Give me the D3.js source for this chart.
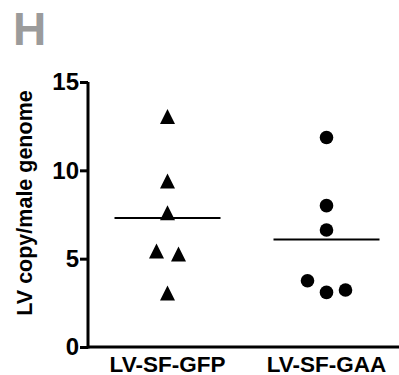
<!DOCTYPE html>
<html>
<head>
<meta charset="utf-8">
<script src="https://cdn.jsdelivr.net/npm/d3@7"></script>
<style>
  body { margin: 0; background: #fff; }
  text { font-family: "Liberation Sans", Arial, sans-serif; font-weight: bold; }
</style>
</head>
<body>
<div id="chart"></div>
<script>
// data
var groups = ['LV-SF-GFP', 'LV-SF-GAA'];
var gfpValues = [13.05, 9.4, 7.6, 5.43, 5.26, 3.06];
var gaaValues = [11.86, 8.0, 6.62, 3.75, 3.09, 3.23];
var yTicks = [0, 5, 10, 15];

var width = 399, height = 375;

var svg = d3.select('#chart')
    .append('svg')
        .attr('width', width)
        .attr('height', height);

// scales
var x = d3.scalePoint()
    .domain(groups)
    .range([167.5, 326.5]);

var y = d3.scaleLinear()
    .domain([0, 15])
    .range([347, 82]);

// panel letter
svg.append('text')
    .attr('x', 13)
    .attr('y', 45)
    .attr('font-size', '46px')
    .attr('fill', '#9b9b9b')
    .text('H');

// y axis
var yAxis = svg.append('g')
    .attr('transform', 'translate(88,0)')
    .call(d3.axisLeft(y).tickValues(yTicks).tickSize(8).tickPadding(1));
yAxis.select('.domain').attr('stroke-width', 3).attr('d', 'M0,' + y(15) + 'V' + (y(0) + 1.5));
yAxis.selectAll('.tick line').attr('stroke-width', 3);
yAxis.selectAll('.tick text').attr('font-size', '24px').attr('fill', '#000');

// x axis
svg.append('line')
    .attr('x1', 88).attr('x2', 399)
    .attr('y1', y(0)).attr('y2', y(0))
    .attr('stroke', '#000')
    .attr('stroke-width', 3);

svg.selectAll('.xlabel')
    .data(groups)
    .enter()
    .append('text')
        .attr('class', 'xlabel')
        .attr('x', d => x(d))
        .attr('y', 371.5)
        .attr('text-anchor', 'middle')
        .attr('font-size', '22.5px')
        .text(d => d);

// y label
svg.append('text')
    .attr('transform', 'translate(32,203) rotate(-90)')
    .attr('text-anchor', 'middle')
    .attr('font-size', '21.5px')
    .text('LV copy/male genome');

// spread close values side by side, in the order given
var spread = function(values) {
    var offsets = values.map(() => 0);
    var used = values.map(() => false);
    values.forEach((v, i) => {
        if (used[i]) return;
        var cluster = [];
        values.forEach((w, j) => {
            if (!used[j] && Math.abs(w - v) < 1) cluster.push(j);
        });
        cluster.forEach((j, k) => {
            used[j] = true;
            offsets[j] = (k - (cluster.length - 1) / 2) * (cluster.length === 2 ? 22 : 19);
        });
    });
    return offsets;
};

var tri = function(cx, cy) {
    var w = 7.5, h = 7.5;
    return 'M' + cx + ',' + (cy - h) + 'L' + (cx + w) + ',' + (cy + h) + 'L' + (cx - w) + ',' + (cy + h) + 'Z';
};

// GFP triangles
var gfpOff = spread(gfpValues);
svg.selectAll('.tri')
    .data(gfpValues)
    .enter()
    .append('path')
        .attr('class', 'tri')
        .attr('d', (d, i) => tri(x(groups[0]) + gfpOff[i], y(d)))
        .attr('fill', '#000');

// GAA circles
var gaaOff = spread(gaaValues);
svg.selectAll('.dot')
    .data(gaaValues)
    .enter()
    .append('circle')
        .attr('class', 'dot')
        .attr('cx', (d, i) => x(groups[1]) + gaaOff[i])
        .attr('cy', d => y(d))
        .attr('r', 6.8)
        .attr('fill', '#000');

// means
var means = [d3.mean(gfpValues), d3.mean(gaaValues)];
svg.selectAll('.mean')
    .data(means)
    .enter()
    .append('line')
        .attr('class', 'mean')
        .attr('x1', (d, i) => x(groups[i]) - 53)
        .attr('x2', (d, i) => x(groups[i]) + 53)
        .attr('y1', d => y(d))
        .attr('y2', d => y(d))
        .attr('stroke', '#000')
        .attr('stroke-width', 2);
</script>
</body>
</html>
